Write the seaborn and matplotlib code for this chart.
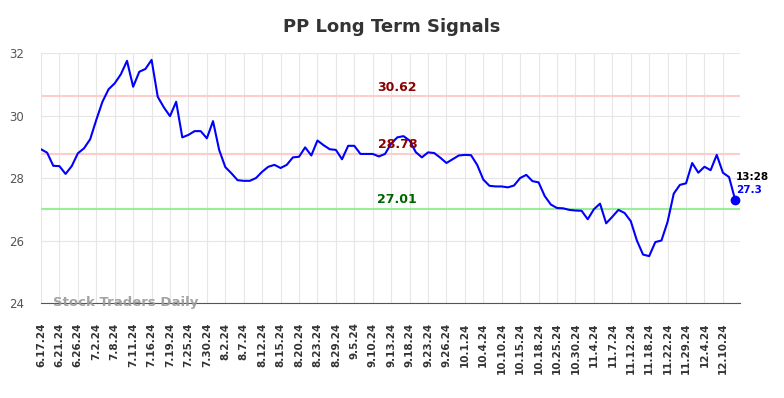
import numpy as np
import pandas as pd
import seaborn as sns
import matplotlib.pyplot as plt

# daily closes
prices = [28.92, 28.81, 28.39, 28.38, 28.13, 28.38, 28.79, 28.95, 29.24, 29.86,
          30.44, 30.84, 31.03, 31.32, 31.75, 30.92, 31.40, 31.49, 31.78, 30.60,
          30.26, 29.98, 30.44, 29.30, 29.38, 29.50, 29.50, 29.27, 29.82, 28.90,
          28.35, 28.15, 27.93, 27.91, 27.91, 28.00, 28.20, 28.36, 28.42, 28.32,
          28.42, 28.66, 28.68, 28.98, 28.72, 29.20, 29.05, 28.92, 28.90, 28.60,
          29.03, 29.03, 28.77, 28.77, 28.77, 28.69, 28.77, 29.10, 29.30, 29.34,
          29.20, 28.83, 28.66, 28.82, 28.80, 28.65, 28.48, 28.60, 28.72, 28.74,
          28.73, 28.42, 27.95, 27.75, 27.73, 27.73, 27.70, 27.76, 28.00, 28.10,
          27.90, 27.86, 27.42, 27.15, 27.04, 27.03, 26.98, 26.96, 26.95, 26.68,
          27.00, 27.18, 26.55, 26.76, 26.98, 26.88, 26.62, 26.00, 25.55, 25.50,
          25.95, 26.00, 26.60, 27.50, 27.78, 27.83, 28.48, 28.17, 28.36, 28.25,
          28.74, 28.17, 28.03, 27.30]

tick_labels = ["6.17.24", "6.21.24", "6.26.24", "7.2.24", "7.8.24", "7.11.24",
               "7.16.24", "7.19.24", "7.25.24", "7.30.24", "8.2.24", "8.7.24",
               "8.12.24", "8.15.24", "8.20.24", "8.23.24", "8.29.24", "9.5.24",
               "9.10.24", "9.13.24", "9.18.24", "9.23.24", "9.26.24", "10.1.24",
               "10.4.24", "10.10.24", "10.15.24", "10.18.24", "10.25.24",
               "10.30.24", "11.4.24", "11.7.24", "11.12.24", "11.18.24",
               "11.22.24", "11.29.24", "12.4.24", "12.10.24"]

upper = 30.62
middle = 28.78
lower = 27.01
last_time = "13:28"

df = pd.DataFrame({"idx": np.arange(len(prices)), "price": prices})

sns.set_style("whitegrid", {"grid.color": "#e6e6e6", "axes.edgecolor": "#e6e6e6"})
plt.rcParams['font.family'] = ['DejaVu Sans']

fig = plt.figure(figsize=(7.84, 3.98), dpi=100)
ax = fig.add_axes([0.0523, 0.2387, 0.8917, 0.6281])

ax.axhline(upper, color="#ffcccc", lw=1.5, zorder=1)
ax.axhline(middle, color="#ffcccc", lw=1.5, zorder=1)
ax.axhline(lower, color="#99ee99", lw=1.5, zorder=1)

sns.lineplot(data=df, x="idx", y="price", color="blue", lw=1.5, ax=ax, zorder=3)
ax.scatter([df.idx.iloc[-1]], [df.price.iloc[-1]], color="blue", s=36, zorder=4)

ax.text(58, upper + 0.08, f"{upper:.2f}", color="#8b0000", fontsize=9,
        fontweight="bold", ha="center", va="bottom")
ax.text(58, middle + 0.08, f"{middle:.2f}", color="#8b0000", fontsize=9,
        fontweight="bold", ha="center", va="bottom")
ax.text(58, lower + 0.08, f"{lower:.2f}", color="#006400", fontsize=9,
        fontweight="bold", ha="center", va="bottom")

ax.text(len(prices) - 0.9, df.price.iloc[-1] + 0.72, last_time, color="black",
        fontsize=7.5, fontweight="bold", ha="left", va="center")
ax.text(len(prices) - 0.9, df.price.iloc[-1] + 0.33, f"{df.price.iloc[-1]:g}",
        color="blue", fontsize=7.5, fontweight="bold", ha="left", va="center")

ax.text(2, 24.0, "Stock Traders Daily", color="#999999", fontsize=9.5,
        fontweight="bold", ha="left", va="center", alpha=0.9)

ax.set_xlim(0, len(prices) - 0.2)
ax.set_ylim(24, 32)
ax.set_yticks([24, 26, 28, 30, 32])
ax.set_xticks(np.arange(0, len(prices), 3))
ax.set_xticklabels(tick_labels, rotation=90, fontsize=7.5, fontweight="bold",
                   color="#333333")
ax.tick_params(axis="y", labelsize=8.5, labelcolor="#555555", length=0, pad=12)
ax.tick_params(axis="x", length=0, pad=14)
ax.set_xlabel("")
ax.set_ylabel("")
ax.spines["bottom"].set_color("#555555")
ax.spines["left"].set_visible(False)
ax.spines["right"].set_visible(False)
ax.spines["top"].set_visible(False)

fig.suptitle("PP Long Term Signals", x=0.5, y=0.955, fontsize=13,
             fontweight="bold", color="#333333")

fig.savefig("out.png", dpi=100)
